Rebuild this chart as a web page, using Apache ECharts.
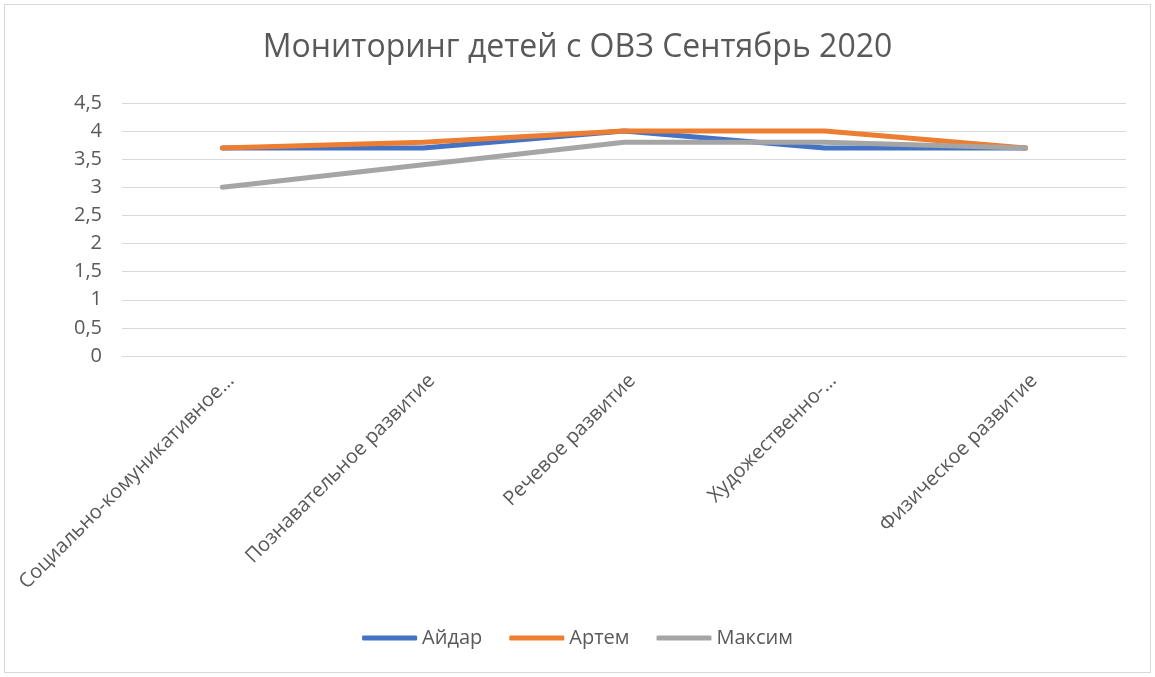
<!DOCTYPE html>
<html><head><meta charset="utf-8">
<script src="https://cdn.jsdelivr.net/npm/echarts@6/dist/echarts.min.js"></script>
<style>html,body{margin:0;padding:0;background:#fff}#c{width:1155px;height:677px}
#frame{position:absolute;left:4px;top:4px;width:1147px;height:669px;border:1px solid #D9D9D9;box-sizing:border-box;pointer-events:none}</style>
</head><body><div id="c"></div><div id="frame"></div>
<script>
const categories = ['Социально-комуникативное…', 'Познавательное развитие', 'Речевое развитие', 'Художественно-…', 'Физическое развитие'];
const seriesNames = ['Айдар', 'Артем', 'Максим'];
const aidar = [3.7, 3.7, 4.0, 3.7, 3.7];
const artem = [3.7, 3.8, 4.0, 4.0, 3.7];
const maksim = [3.0, 3.4, 3.8, 3.8, 3.7];
const colors = ['#4472C4', '#ED7D31', '#A5A5A5'];
const font = 'Open Sans, Liberation Sans, sans-serif';
const chart = echarts.init(document.getElementById('c'));
const mk = (name, data, i) => ({
  name, type: 'line', data, showSymbol: false, symbol: 'none', smooth: false,
  lineStyle: { width: 5, color: colors[i], cap: 'round', join: 'round' },
  itemStyle: { color: colors[i] }, z: 2 + i
});
chart.setOption({
  animation: false,
  title: { text: 'Мониторинг детей с ОВЗ Сентябрь 2020', left: 'center', top: 27,
    textStyle: { fontFamily: font, fontSize: 32, fontWeight: 'normal', color: '#595959' } },
  legend: { bottom: 24, left: 'center', itemWidth: 55, itemHeight: 5, itemGap: 27,
    icon: 'roundRect', data: seriesNames,
    textStyle: { fontFamily: font, fontSize: 20, color: '#595959' } },
  grid: { left: 122, right: 29, top: 103, bottom: 321 },
  xAxis: { type: 'category', data: categories, boundaryGap: true,
    axisLine: { lineStyle: { color: '#D9D9D9', width: 1 } }, axisTick: { show: false },
    axisLabel: { rotate: 45, interval: 0, fontFamily: font, fontSize: 20, color: '#595959',
      margin: 30, padding: [0, -12, 0, 0] } },
  yAxis: { type: 'value', min: 0, max: 4.5, interval: 0.5,
    axisLine: { show: false }, axisTick: { show: false },
    splitLine: { lineStyle: { color: '#D9D9D9', width: 1 } },
    axisLabel: { fontFamily: font, fontSize: 20, color: '#595959', margin: 20,
      formatter: v => String(v).replace('.', ',') } },
  series: [mk(seriesNames[0], aidar, 0), mk(seriesNames[1], artem, 1), mk(seriesNames[2], maksim, 2)]
});
</script></body></html>
